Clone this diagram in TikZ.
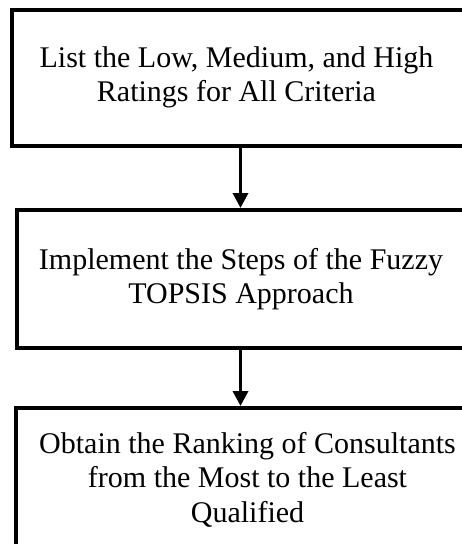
\documentclass[tikz,border=0pt]{standalone}
\usepackage{fontspec}
\setmainfont{Liberation Serif}
\usetikzlibrary{arrows.meta,positioning}
\tikzset{stage/.style={draw, line width=4pt, inner sep=0pt},
  stagetext/.style={align=center, inner sep=0pt, font=\fontsize{30}{34.5}\selectfont},
  flow/.style={-{Triangle[length=15pt, width=15pt]}, line width=3.5pt}}

\begin{document}
\begin{tikzpicture}[x=1pt, y=-1pt]
  \useasboundingbox (0,0) rectangle (462,544);
  \clip (0,0) rectangle (462,544);
  % stages
  \node[stage, minimum width=458, minimum height=136] (b1) at (240.5,77.5) {};
  \node[stage, minimum width=448, minimum height=138] (b2) at (240.5,279) {};
  \node[stage, minimum width=449, minimum height=143] (b3) at (240.5,479.5) {};
  \node[stagetext] (t1) at ([xshift=-4pt]b1.center) {List the Low, Medium, and High\\Ratings for All Criteria};
  \node[stagetext] (t2) at ([xshift=0.5pt]b2.center) {Implement the Steps of the Fuzzy\\TOPSIS Approach};
  \node[stagetext] (t3) at ([xshift=7pt]b3.center) {Obtain the Ranking of Consultants\\from the Most to the Least\\Qualified};
  % arrows
  \draw[flow] (b1.south) -- (b2.north);
  \draw[flow] (b2.south) -- (b3.north);
\end{tikzpicture}
\end{document}
